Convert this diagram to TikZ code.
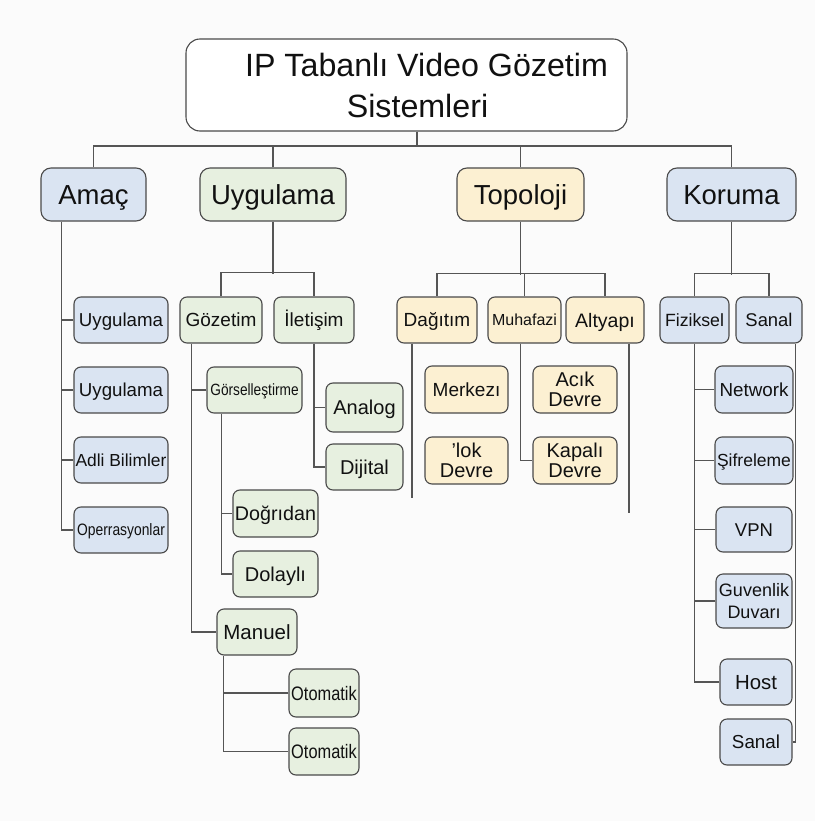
\documentclass[tikz,border=0pt]{standalone}
\usepackage{fontspec}
\setmainfont{Liberation Sans}
\newfontfamily\dar[FakeStretch=0.84]{Liberation Sans}
\usepackage{xcolor}
\definecolor{zemin}{HTML}{FBFBFB}
\definecolor{kenar}{HTML}{4A4A4A}
\definecolor{cizgi}{HTML}{555555}
\definecolor{mavidolgu}{HTML}{DAE4F2}
\definecolor{yesildolgu}{HTML}{E7F0E0}
\definecolor{saridolgu}{HTML}{FCF0D2}
\definecolor{yazirengi}{HTML}{111111}
\tikzset{
	kutu/.style={draw=kenar, line width=1.1pt, rounded corners=7pt, inner sep=0pt, align=center, text=yazirengi},
	mavi/.style={kutu, fill=mavidolgu},
	yesil/.style={kutu, fill=yesildolgu},
	sari/.style={kutu, fill=saridolgu},
	boyut/.style 2 args={minimum width=#1, minimum height=#2},
	yazi/.style={font=\fontsize{#1}{#1}\selectfont, text height=0.72*#1, text depth=0},
	daryazi/.style={font=\dar\fontsize{#1}{#1}\selectfont, text height=0.72*#1, text depth=0},
	baglanti/.style={draw=cizgi, line width=1.1pt}
}

\begin{document}
\begin{tikzpicture}[x=1pt, y=-1pt]
	\fill[zemin] (0,0) rectangle (815,821);
	\useasboundingbox (0,0) rectangle (815,821);

	% baslik ve ana dallar
	\node[kutu, fill=white, rounded corners=14pt, boyut={441}{92}, font=\fontsize{32.2}{41}\selectfont] (baslik) at (406.5,85) {\hspace*{40pt}IP Tabanlı Video Gözetim\\\hspace*{22pt}Sistemleri};
	\node[mavi, rounded corners=10pt, boyut={105}{53}, yazi=27.5] (amac) at (93.5,194.5) {Amaç};
	\node[yesil, rounded corners=10pt, boyut={146}{53}, yazi=27.5] (uyg) at (273,194.5) {Uygulama};
	\node[sari, rounded corners=10pt, boyut={127}{53}, yazi=27.5] (topo) at (520.5,194.5) {Topoloji};
	\node[mavi, rounded corners=10pt, boyut={129}{53}, yazi=27.5] (koruma) at (731.5,194.5) {Koruma};
	\coordinate (ust) at (417,146);
	\draw[baglanti] (baslik.south -| ust) -- (ust);
	\draw[baglanti] (amac.north) |- (ust) -| (koruma.north);
	\draw[baglanti] (uyg.north) -- (uyg.north |- ust);
	\draw[baglanti] (topo.north) -- (topo.north |- ust);

	% Amac
	\foreach \ad/\y/\metin/\p in {a1/320/Uygulama/18.7, a2/390/Uygulama/18.7, a3/460/Adli Bilimler/17.4}
		\node[mavi, boyut={94}{46}, yazi=\p] (\ad) at (121,\y) {\metin};
	\node[mavi, boyut={94}{46}, daryazi=16.5] (a4) at (121,530) {Operrasyonlar};
	\draw[baglanti] ([xshift=21]amac.south west) |- (a4.west);
	\foreach \ad in {a1,a2,a3}
		\draw[baglanti] (\ad.west) -- ++(-12,0);

	% Uygulama
	\node[yesil, boyut={82}{46}, yazi=19] (gozetim) at (221,320) {Gözetim};
	\node[yesil, boyut={80}{46}, yazi=19] (iletisim) at (314,320) {İletişim};
	\draw[baglanti] (uyg.south) -- ++(0,52);
	\draw[baglanti] (gozetim.north) -- ++(0,-24) -| (iletisim.north);
	\node[yesil, boyut={95}{46}, daryazi=16.3] (gorsel) at (254.5,390) {Görselleştirme};
	\node[yesil, boyut={85}{47}, yazi=19.7] (dogru) at (275.5,513.5) {Doğrıdan};
	\node[yesil, boyut={85}{46}, yazi=20] (dolayli) at (275.5,574) {Dolaylı};
	\node[yesil, boyut={80}{46}, yazi=20.5] (manuel) at (257,632) {Manuel};
	\node[yesil, boyut={70}{48}, daryazi=19.5] (oto1) at (324,693) {Otomatik};
	\node[yesil, boyut={70}{47}, daryazi=19.5] (oto2) at (324,751.5) {Otomatik};
	\node[yesil, boyut={77}{49}, yazi=20] (analog) at (364.5,407.5) {Analog};
	\node[yesil, boyut={77}{46}, yazi=20] (dijital) at (364.5,467) {Dijital};
	\draw[baglanti] ([xshift=12]gozetim.south west) |- (manuel.west);
	\draw[baglanti] (gorsel.west) -- ++(-15,0);
	\draw[baglanti] ([xshift=15]gorsel.south west) |- (dolayli.west);
	\draw[baglanti] (dogru.west) -- ++(-11,0);
	\draw[baglanti] ([xshift=7]manuel.south west) |- (oto2.west);
	\draw[baglanti] (oto1.west) -- ++(-65,0);
	\draw[baglanti] (iletisim.south) |- (dijital.west);
	\draw[baglanti] (analog.west) -- ++(-12,0);

	% Topoloji
	\node[sari, boyut={80}{46}, yazi=19] (dagitim) at (437,320) {Dağıtım};
	\node[sari, boyut={73}{46}, yazi=16] (muhafazi) at (524.5,320) {Muhafazi};
	\node[sari, boyut={78}{46}, yazi=19.5] (altyapi) at (605,320) {Altyapı};
	\draw[baglanti] (topo.south) -- ++(0,53);
	\draw[baglanti] (dagitim.north) -- ++(0,-23) -| (altyapi.north);
	\draw[baglanti] (muhafazi.north) -- ++(0,-23);
	\node[sari, boyut={83}{47}, yazi=19] (merkezi) at (466.5,389.5) {Merkezı};
	\node[sari, boyut={83}{47}, font=\fontsize{20}{20}\selectfont] (lok) at (466.5,460.5) {'lok\\Devre};
	\node[sari, boyut={84}{47}, font=\fontsize{20}{20}\selectfont] (acik) at (575,389.5) {Acık\\Devre};
	\node[sari, boyut={84}{47}, font=\fontsize{20}{20}\selectfont] (kapali) at (575,460.5) {Kapalı\\Devre};
	\coordinate (dagitim-uc) at (412,498);
	\coordinate (altyapi-uc) at (629,513);
	\draw[baglanti] (dagitim.south -| dagitim-uc) -- (dagitim-uc);
	\draw[baglanti] ([xshift=33]muhafazi.south west) |- (kapali.west);
	\draw[baglanti] (altyapi.south -| altyapi-uc) -- (altyapi-uc);

	% Koruma
	\node[mavi, boyut={69}{46}, yazi=17.7] (fiziksel) at (694.5,320) {Fiziksel};
	\node[mavi, boyut={66}{46}, yazi=18.4] (sanal) at (769,320) {Sanal};
	\draw[baglanti] (koruma.south) -- ++(0,53);
	\draw[baglanti] (fiziksel.north) -- ++(0,-23) -| (sanal.north);
	\node[mavi, boyut={78}{47}, yazi=18.8] (network) at (754,389.5) {Network};
	\node[mavi, boyut={78}{47}, yazi=17.5] (sifre) at (754,460.5) {Şifreleme};
	\node[mavi, boyut={76}{45}, yazi=18.5] (vpn) at (754,529.5) {VPN};
	\node[mavi, boyut={76}{54}, font=\fontsize{18}{22}\selectfont] (guvenlik) at (754,601) {Guvenlik\\Duvarı};
	\node[mavi, boyut={72}{46}, yazi=20.4] (host) at (756,682) {Host};
	\node[mavi, boyut={72}{46}, yazi=18.8] (sanal2) at (756,742) {Sanal};
	\draw[baglanti] (fiziksel.south) |- (host.west);
	\foreach \ad in {network,sifre,vpn,guvenlik}
		\draw[baglanti] (\ad.west) -- (\ad.west -| fiziksel.south);
	\draw[baglanti] ([xshift=-7]sanal.south east) |- (sanal2.east);
\end{tikzpicture}
\end{document}
